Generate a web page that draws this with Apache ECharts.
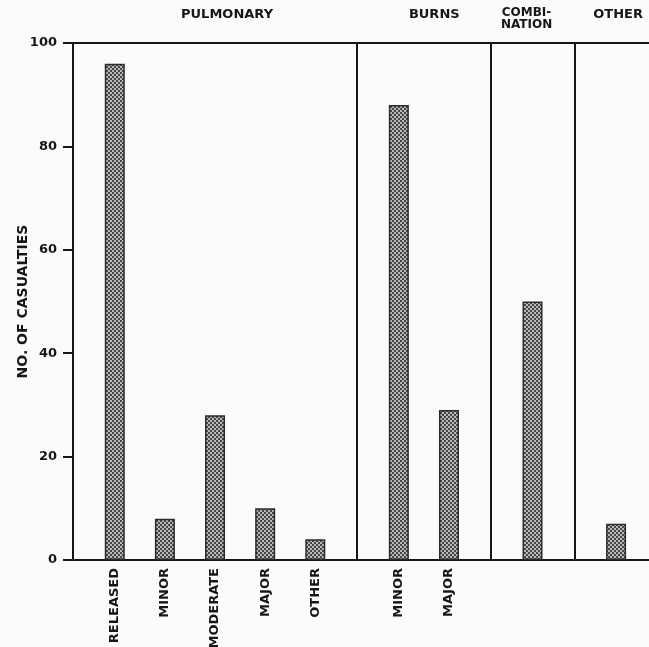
<!DOCTYPE html>
<html>
<head>
<meta charset="utf-8">
<script src="https://cdn.jsdelivr.net/npm/echarts@6/dist/echarts.min.js"></script>
<style>
  html, body { margin: 0; padding: 0; background: #fbfbfb; }
  #chart { width: 649px; height: 647px; }
</style>
</head>
<body>
<div id="chart"></div>
<script>
// groups along the top, bars underneath
const groupNames = ['PULMONARY', 'BURNS', 'COMBI-\nNATION', 'OTHER'];
const barLabels = ['RELEASED', 'MINOR', 'MODERATE', 'MAJOR', 'OTHER', 'MINOR', 'MAJOR', '', ''];
const barGroup = [0, 0, 0, 0, 0, 1, 1, 2, 3];
const casualties = [96, 8, 28, 10, 4, 88, 29, 50, 7];
const yTicks = [0, 20, 40, 60, 80, 100];

// slot layout: bars 3 slots apart inside a group, 5 slots between groups
const LEAD = 2, IN_STEP = 3, GROUP_STEP = 5, SLOTS = 35;

const slots = [];
barLabels.forEach((_, i) => {
  if (i === 0) slots.push(0);
  else slots.push(slots[i - 1] + (barGroup[i] === barGroup[i - 1] ? IN_STEP : GROUP_STEP));
});

const categories = new Array(SLOTS).fill('');
const values = new Array(SLOTS).fill('-');
slots.forEach((s, i) => {
  categories[s + LEAD] = barLabels[i];
  values[s + LEAD] = casualties[i];
});

// category index whose left edge carries a separator
const sepIndex = new Set();
for (let i = 1; i < slots.length; i++) {
  if (barGroup[i] !== barGroup[i - 1]) sepIndex.add(slots[i] - 2 + LEAD);
}

// header positions: centre of each group span (small nudge in pixels)
const groupCentre = groupNames.map((_, g) => {
  const s = slots.filter((_, i) => barGroup[i] === g);
  return (s[0] + s[s.length - 1]) / 2 + LEAD;
});
const headerNudge = [12, 2, -6, 2];

function makePattern() {
  const c = document.createElement('canvas');
  c.width = 4; c.height = 4;
  const g = c.getContext('2d');
  g.fillStyle = '#b8b8b8';
  g.fillRect(0, 0, 4, 4);
  g.fillStyle = '#474747';
  g.fillRect(0, 0, 2, 2);
  g.fillRect(2, 2, 2, 2);
  return c;
}

const font = '"DejaVu Sans", sans-serif';
const ink = '#161616';

const chart = echarts.init(document.getElementById('chart'));

const gridLeft = 73, gridTop = 43, gridHeight = 517;
const slotW = 16.71;

chart.setOption({
  backgroundColor: '#fbfbfb',
  animation: false,
  grid: {
    left: gridLeft,
    top: gridTop,
    width: SLOTS * slotW,
    height: gridHeight,
    outerBoundsMode: 'none',
    containLabel: false,
    show: true,
    borderColor: ink,
    borderWidth: 2
  },
  xAxis: {
    type: 'category',
    data: categories,
    boundaryGap: true,
    axisLine: { lineStyle: { color: ink, width: 2 } },
    axisTick: { show: false },
    axisLabel: {
      interval: 0,
      rotate: 90,
      margin: 8,
      color: ink,
      fontFamily: font,
      fontWeight: 'bold',
      fontSize: 13
    },
    splitLine: {
      show: true,
      interval: function (index) { return sepIndex.has(index); },
      lineStyle: { color: ink, width: 2 }
    }
  },
  yAxis: {
    type: 'value',
    min: yTicks[0],
    max: yTicks[yTicks.length - 1],
    interval: yTicks[1] - yTicks[0],
    name: 'NO. OF CASUALTIES',
    nameLocation: 'middle',
    nameRotate: 90,
    nameGap: 43,
    nameMoveOverlap: false,
    nameTextStyle: {
      color: ink,
      fontFamily: font,
      fontWeight: 'bold',
      fontSize: 14
    },
    axisLine: { show: true, lineStyle: { color: ink, width: 2 } },
    axisTick: { show: true, length: 10, lineStyle: { color: ink, width: 2 } },
    axisLabel: {
      margin: 16,
      color: ink,
      fontFamily: font,
      fontWeight: 'bold',
      fontSize: 13
    },
    splitLine: { show: false }
  },
  series: [{
    type: 'bar',
    data: values,
    barWidth: 20,
    itemStyle: {
      color: { image: makePattern(), repeat: 'repeat' },
      borderColor: '#2a2a2a',
      borderWidth: 1.5
    }
  }]
});

// group headers above the frame
const headers = groupNames.map((name, g) => {
  const x = chart.convertToPixel({ xAxisIndex: 0 }, groupCentre[g]) + headerNudge[g];
  const twoLine = name.includes('\n');
  return {
    type: 'text',
    x: x,
    y: twoLine ? 7 : 9,
    style: {
      text: name,
      fill: ink,
      font: 'bold ' + (twoLine ? 12 : 13) + 'px ' + font,
      align: 'center',
      lineHeight: 12
    }
  };
});
chart.setOption({ graphic: headers });
</script>
</body>
</html>
